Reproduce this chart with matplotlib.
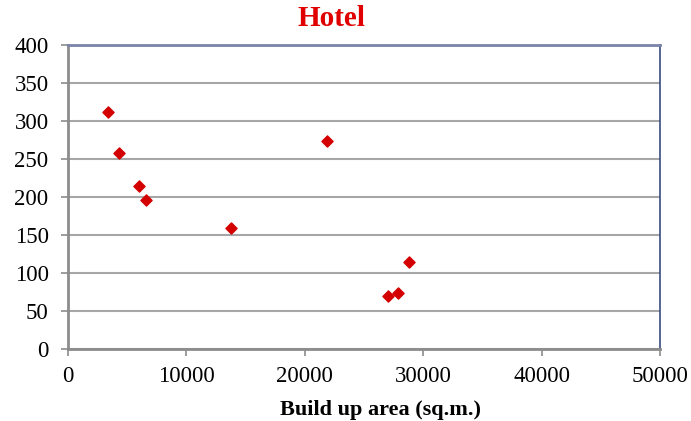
import matplotlib.pyplot as plt

# data
area = [3400, 4300, 6000, 6600, 13800, 21900, 27000, 27900, 28800]
value = [312, 258, 214, 196, 159, 274, 70, 74, 114]

x_ticks = [0, 10000, 20000, 30000, 40000, 50000]
y_ticks = [0, 50, 100, 150, 200, 250, 300, 350, 400]

plt.rcParams['font.family'] = ['Liberation Serif', 'DejaVu Serif']

fig = plt.figure(figsize=(6.91, 4.21), dpi=100)
ax = fig.add_axes([0.0984, 0.171, 0.857, 0.722])

ax.scatter(area, value, marker='D', s=32, color='#d40000', zorder=3)

ax.set_xlim(0, 50000)
ax.set_ylim(0, 400)
ax.set_xticks(x_ticks)
ax.set_yticks(y_ticks)
ax.yaxis.grid(True, color='#a6a6a6', linewidth=1.5)
ax.set_axisbelow(True)

for side in ['left', 'bottom']:
    ax.spines[side].set_color('#8c8c8c')
    ax.spines[side].set_linewidth(2)
ax.spines['right'].set_color('#3a4a80')
ax.spines['right'].set_linewidth(1.2)
ax.spines['top'].set_color('#7b84a8')
ax.spines['top'].set_linewidth(2)

ax.tick_params(axis='both', direction='out', length=5, width=1.2, color='#8c8c8c',
               labelsize=16.5)
ax.tick_params(axis='x', pad=7)
ax.tick_params(axis='y', pad=9)

# title sits a little left of the plot centre in the original
fig.text(331 / 691, 1 - 19 / 421, 'Hotel', color='#e00000', fontsize=21,
         fontweight='bold', ha='center', va='center')

ax.set_xlabel('Build up area (sq.m.)', fontsize=16, fontweight='bold', va='center')
ax.xaxis.set_label_coords(0.527, -0.2)

fig.savefig('out.png', dpi=100)
